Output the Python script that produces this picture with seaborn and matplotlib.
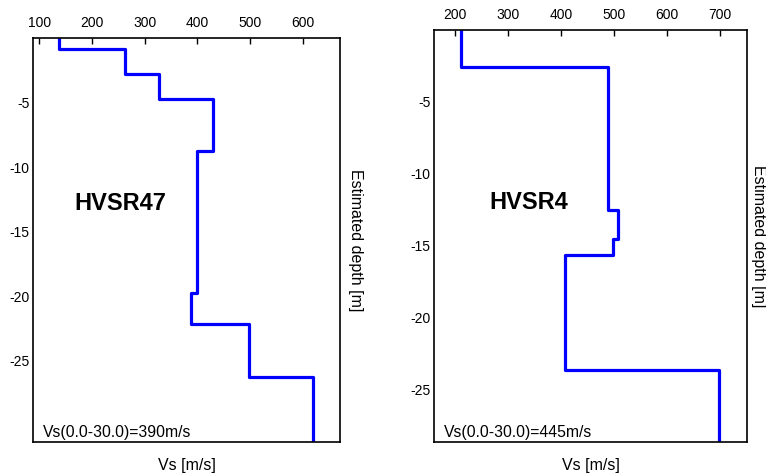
import numpy as np
import pandas as pd
import matplotlib
matplotlib.use("Agg")
import matplotlib.pyplot as plt
import seaborn as sns

# ---- data ----
left_name = "HVSR47"
left_tops = [0.0, -0.85, -2.77, -4.7, -8.71, -19.77, -22.17, -26.26]
left_vs = [138, 263, 328, 429, 399, 388, 498, 619]
left_bottom = -31.3
left_vs30 = "Vs(0.0-30.0)=390m/s"
left_xticks = [100, 200, 300, 400, 500, 600]

right_name = "HVSR4"
right_tops = [0.0, -2.58, -12.53, -14.53, -15.6, -23.6]
right_vs = [210, 489, 508, 499, 408, 699]
right_bottom = -28.6
right_vs30 = "Vs(0.0-30.0)=445m/s"
right_xticks = [200, 300, 400, 500, 600, 700]

yticks = [-5, -10, -15, -20, -25]

sns.set_style("white")
plt.rcParams["font.family"] = ["Liberation Sans", "DejaVu Sans"]
plt.rcParams["axes.unicode_minus"] = False
plt.rcParams["text.color"] = "black"


def step_frame(tops, vs, bottom):
    bounds = list(tops) + [bottom]
    xs, ys = [], []
    for i, v in enumerate(vs):
        xs += [v, v]
        ys += [bounds[i], bounds[i + 1]]
    return pd.DataFrame({"Vs": xs, "depth": ys})


W, H = 766, 473
fig = plt.figure(figsize=(W / 100, H / 100), dpi=100)

panels = [
    dict(rect=(33.3, 38.3, 340, 442.3), xlim=(88.6, 670.8), ylim=(left_bottom, 0),
         tops=left_tops, vs=left_vs, bottom=left_bottom, name=left_name,
         vs30=left_vs30, xticks=left_xticks, namepos=(0.283, 0.592), lab_off=7.5),
    dict(rect=(434.3, 30, 746.7, 441.7), xlim=(160.3, 751), ylim=(right_bottom, 0),
         tops=right_tops, vs=right_vs, bottom=right_bottom, name=right_name,
         vs30=right_vs30, xticks=right_xticks, namepos=(0.302, 0.580), lab_off=4),
]

for p in panels:
    x0, y0, x1, y1 = p["rect"]
    ax = fig.add_axes([x0 / W, (H - y1) / H, (x1 - x0) / W, (y1 - y0) / H])
    df = step_frame(p["tops"], p["vs"], p["bottom"])
    sns.lineplot(data=df, x="Vs", y="depth", sort=False, estimator=None,
                 color="#0000ff", linewidth=2.3, ax=ax)
    ax.set_xlim(*p["xlim"])
    ax.set_ylim(*p["ylim"])
    ax.xaxis.tick_top()
    ax.set_xticks(p["xticks"])
    ax.set_yticks(yticks)
    ax.tick_params(axis="x", direction="in", length=4, width=1, pad=6,
                   labelsize=10, colors="black")
    ax.tick_params(axis="y", direction="in", length=4, width=1, pad=2.5,
                   labelsize=10, colors="black")
    for s in ax.spines.values():
        s.set_color("black")
        s.set_linewidth(1.2)
    ax.set_xlabel("")
    ax.set_ylabel("")
    ax.text(0.5, -0.04, "Vs [m/s]", transform=ax.transAxes, ha="center", va="top",
            fontsize=11.5)
    ax.text(1.0 + p["lab_off"] / (x1 - x0), 0.5, "Estimated depth [m]",
            transform=ax.transAxes, rotation=270, ha="left", va="center",
            fontsize=11.5)
    ax.text(p["namepos"][0], p["namepos"][1], p["name"], transform=ax.transAxes,
            ha="center", va="center", fontsize=17, fontweight="bold")
    ax.text(10 / (x1 - x0), 5 / (y1 - y0), p["vs30"], transform=ax.transAxes,
            ha="left", va="baseline", fontsize=11.3)

fig.savefig("out.png", dpi=100)
